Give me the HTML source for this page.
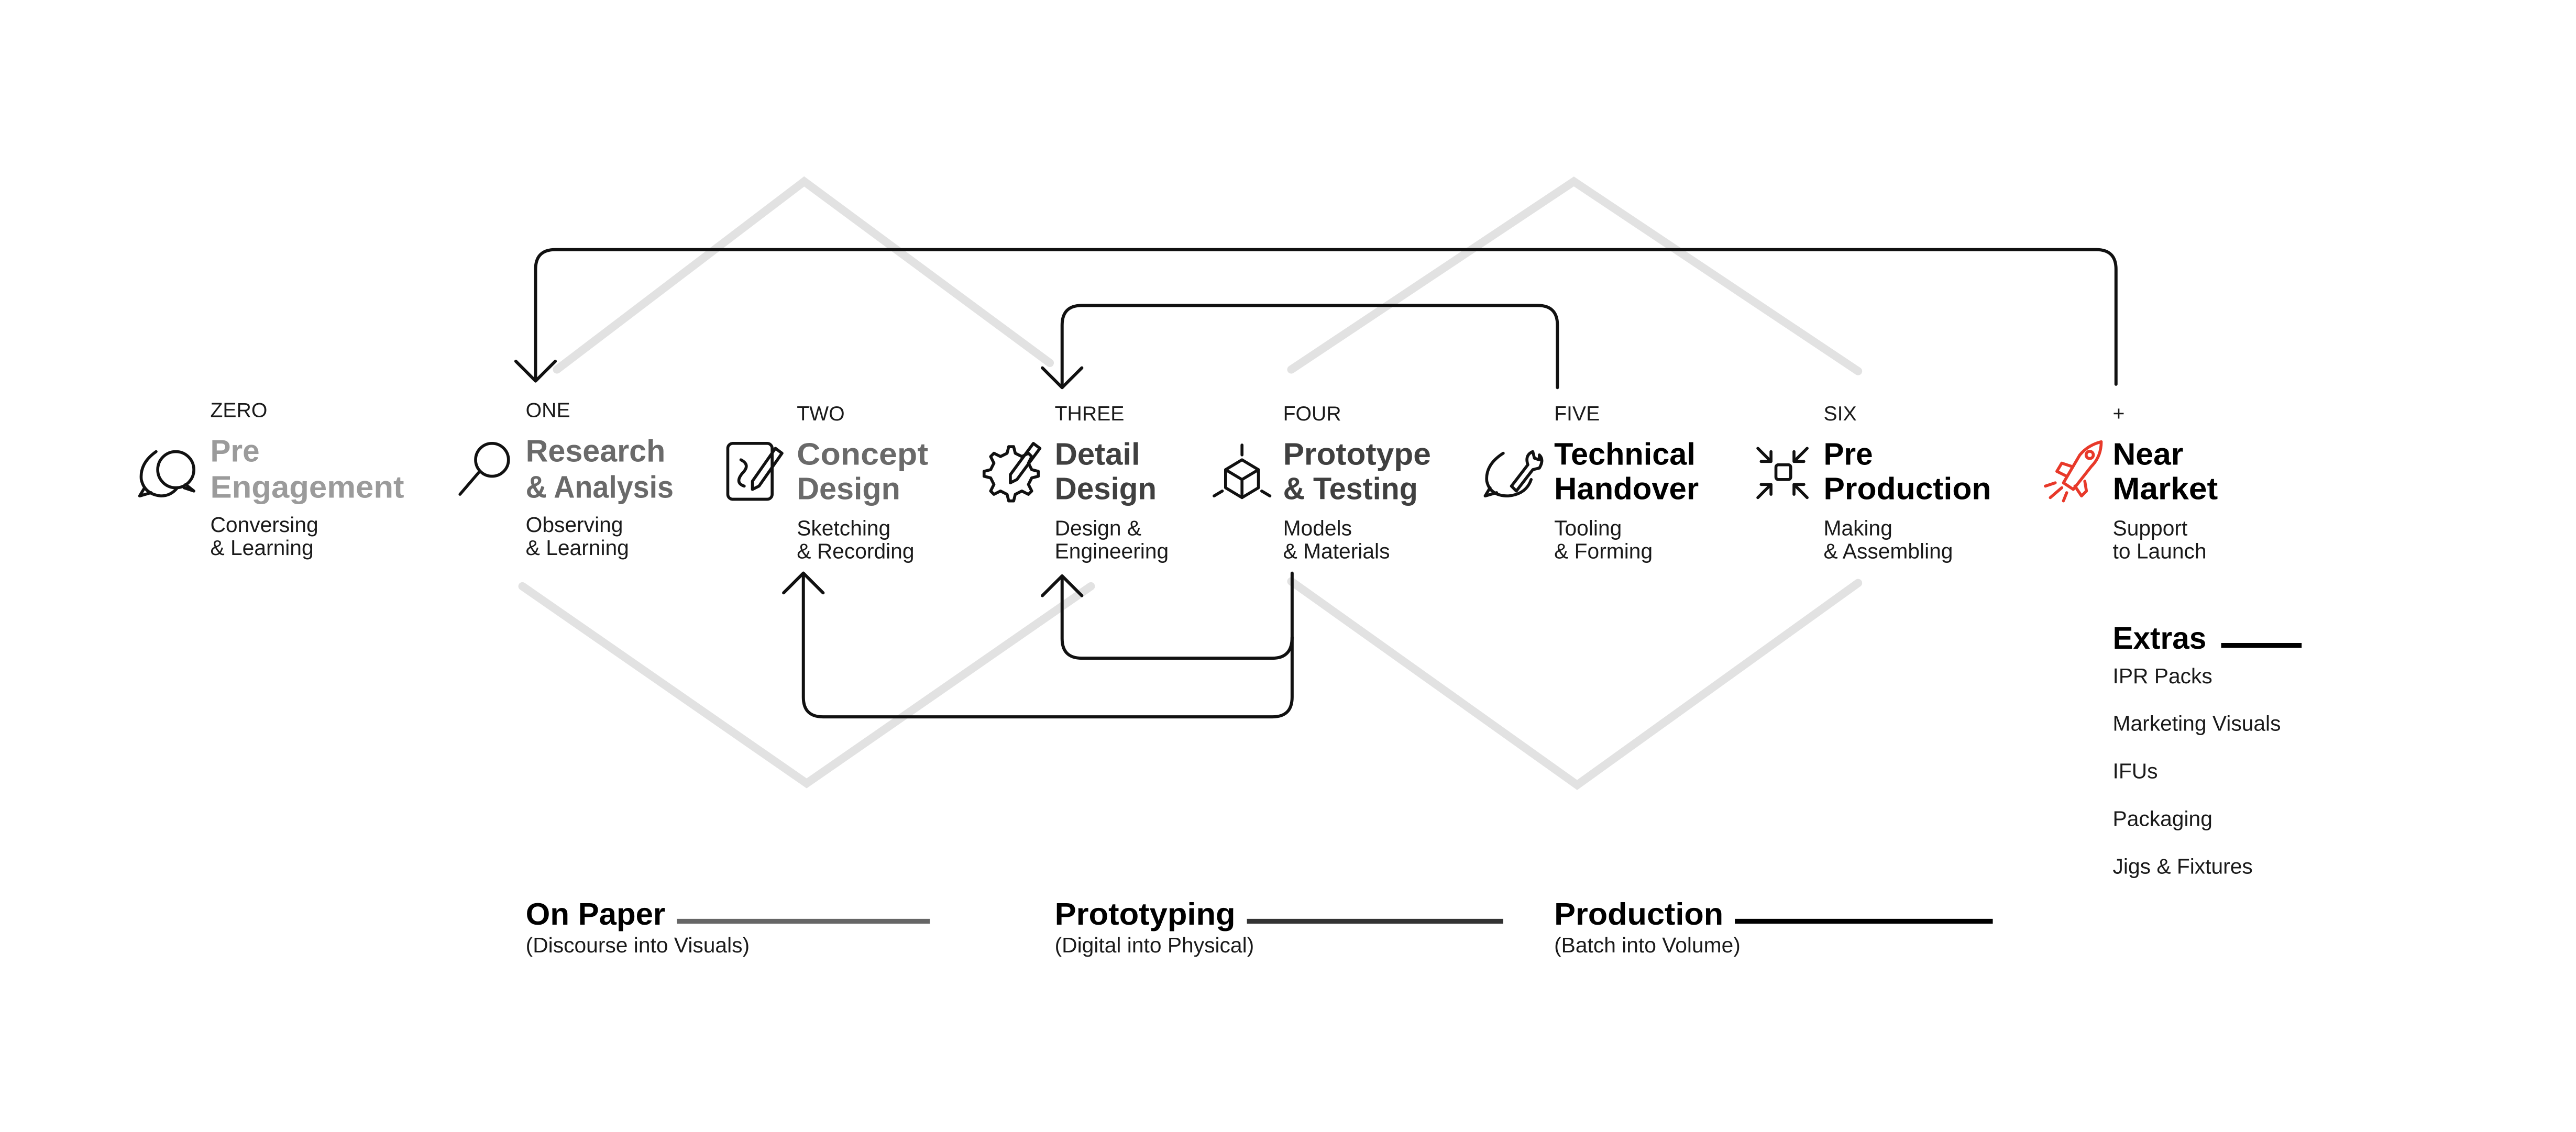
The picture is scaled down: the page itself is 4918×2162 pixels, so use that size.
<!DOCTYPE html>
<html><head><meta charset="utf-8"><style>
html,body{margin:0;padding:0;background:#fff;}
svg{display:block;}
text{font-family:"Liberation Sans",sans-serif;}
.lab{font-size:12.5px;fill:#1a1a1a;}
.sub{font-size:13px;fill:#1a1a1a;}
.t{font-size:19px;font-weight:bold;}
.ic{fill:none;stroke:#111;stroke-width:1.8;stroke-linecap:round;stroke-linejoin:round;}
</style></head><body>
<svg width="4918" height="2162" viewBox="0 0 1568 689.3" xmlns="http://www.w3.org/2000/svg">
<rect width="1568" height="689.3" fill="#fff"/>
<!-- grey diamonds -->
<g fill="none" stroke="#e2e2e2" stroke-width="5" stroke-linecap="round">
<polyline points="339,225 489.5,110.5 639,221"/>
<polyline points="318,357 491,477 664,357"/>
<polyline points="786,225 958,110.5 1131,226"/>
<polyline points="786,354 960,478 1131,355"/>
</g>
<!-- connectors -->
<g fill="none" stroke="#111" stroke-width="1.9" stroke-linecap="round" stroke-linejoin="round">
<path d="M326,232 V164 Q326,152 338,152 H1276 Q1288,152 1288,164 V234"/>
<polyline points="314,220 326,232 338,220"/>
<path d="M646.5,236 V198 Q646.5,186 658.5,186 H936 Q948,186 948,198 V236"/>
<polyline points="634.5,224 646.5,236 658.5,224"/>
<path d="M786.5,349 V424.5 Q786.5,436.5 774.5,436.5 H501 Q489,436.5 489,424.5 V349"/>
<polyline points="477,361 489,349 501,361"/>
<path d="M786.5,388 Q786.5,400.8 774.5,400.8 H658.5 Q646.5,400.8 646.5,388.8 V350.7"/>
<polyline points="634.5,362.7 646.5,350.7 658.5,362.7"/>
</g>
<!-- labels -->
<text class="lab" x="128" y="254">ZERO</text>
<text class="lab" x="320" y="254">ONE</text>
<text class="lab" x="485" y="256">TWO</text>
<text class="lab" x="642" y="256">THREE</text>
<text class="lab" x="781" y="256">FOUR</text>
<text class="lab" x="946" y="256">FIVE</text>
<text class="lab" x="1110" y="256">SIX</text>
<text class="lab" x="1286" y="256">+</text>
<!-- titles -->
<g class="t">
<text x="128" y="281" fill="#9b9b9b" textLength="30" lengthAdjust="spacingAndGlyphs">Pre</text>
<text x="128" y="303" fill="#9b9b9b" textLength="118" lengthAdjust="spacingAndGlyphs">Engagement</text>
<text x="320" y="281" fill="#6a6a6a" textLength="85" lengthAdjust="spacingAndGlyphs">Research</text>
<text x="320" y="303" fill="#6a6a6a" textLength="90" lengthAdjust="spacingAndGlyphs">&amp; Analysis</text>
<text x="485" y="283" fill="#6a6a6a" textLength="80" lengthAdjust="spacingAndGlyphs">Concept</text>
<text x="485" y="304" fill="#6a6a6a" textLength="63" lengthAdjust="spacingAndGlyphs">Design</text>
<text x="642" y="283" fill="#404040" textLength="52" lengthAdjust="spacingAndGlyphs">Detail</text>
<text x="642" y="304" fill="#404040" textLength="62" lengthAdjust="spacingAndGlyphs">Design</text>
<text x="781" y="283" fill="#404040" textLength="90" lengthAdjust="spacingAndGlyphs">Prototype</text>
<text x="781" y="304" fill="#404040" textLength="82" lengthAdjust="spacingAndGlyphs">&amp; Testing</text>
<text x="946" y="283" fill="#000" textLength="86" lengthAdjust="spacingAndGlyphs">Technical</text>
<text x="946" y="304" fill="#000" textLength="88" lengthAdjust="spacingAndGlyphs">Handover</text>
<text x="1110" y="283" fill="#000" textLength="30" lengthAdjust="spacingAndGlyphs">Pre</text>
<text x="1110" y="304" fill="#000" textLength="102" lengthAdjust="spacingAndGlyphs">Production</text>
<text x="1286" y="283" fill="#000" textLength="43" lengthAdjust="spacingAndGlyphs">Near</text>
<text x="1286" y="304" fill="#000" textLength="64" lengthAdjust="spacingAndGlyphs">Market</text>
</g>
<!-- subtitles -->
<text class="sub" x="128" y="324">Conversing</text><text class="sub" x="128" y="338">&amp; Learning</text>
<text class="sub" x="320" y="324">Observing</text><text class="sub" x="320" y="338">&amp; Learning</text>
<text class="sub" x="485" y="326">Sketching</text><text class="sub" x="485" y="340">&amp; Recording</text>
<text class="sub" x="642" y="326">Design &amp;</text><text class="sub" x="642" y="340">Engineering</text>
<text class="sub" x="781" y="326">Models</text><text class="sub" x="781" y="340">&amp; Materials</text>
<text class="sub" x="946" y="326">Tooling</text><text class="sub" x="946" y="340">&amp; Forming</text>
<text class="sub" x="1110" y="326">Making</text><text class="sub" x="1110" y="340">&amp; Assembling</text>
<text class="sub" x="1286" y="326">Support</text><text class="sub" x="1286" y="340">to Launch</text>
<!-- icons -->
<g class="ic">
<!-- zero chat -->
<path d="M95,275 Q85,282 86,292 Q88,301 98,302 Q104,302 108,297"/>
<path d="M88,297 L85,302 L92,300"/>
<circle cx="107" cy="286" r="11"/>
<path d="M113,295 L118,299 L112,297"/>
<!-- one magnifier -->
<circle cx="299.5" cy="280" r="10"/>
<line x1="292" y1="287" x2="280" y2="301"/>
<!-- two -->
<rect x="443" y="270" width="27" height="34" rx="3"/>
<path d="M451,280 Q457,283 452,288 Q447,294 453,296"/>
<path d="M472,273 L476,276 L462,296 L458,298 L458,293 Z"/>
<!-- three gear -->
<path d="M614,272 l3,0 1,4 4,2 4,-2 2,2 -2,4 2,4 4,1 0,3 -4,1 -2,4 2,4 -2,2 -4,-2 -4,2 -1,4 -3,0 -1,-4 -4,-2 -4,2 -2,-2 2,-4 -2,-4 -4,-1 0,-3 4,-1 2,-4 -2,-4 2,-2 4,2 4,-2 z"/>
<path d="M629,270 L633,273 L619,292 L615,294 L615,289 Z"/>
<!-- four cube -->
<line x1="756" y1="271" x2="756" y2="277"/>
<path d="M756,280 L766,286 L766,297 L756,303 L746,297 L746,286 Z"/>
<path d="M746,286 L756,292 L766,286 M756,292 V303"/>
<line x1="744" y1="299" x2="739" y2="302"/>
<line x1="768" y1="299" x2="773" y2="302"/>
<!-- five -->
<path d="M915,276 Q904,283 905,293 Q907,302 918,302 Q929,301 932,292"/>
<path d="M907,297 L904,302 L911,300"/>
<path d="M920,296 L930,283 Q928,277 933,275 L934,279 L937,280 L937,277 Q940,280 937,285 L933,286 L923,299 Z"/>
<!-- six arrows -->
<path d="M1070,273 L1078,281 M1078,275 V281 H1072"/>
<path d="M1100,273 L1092,281 M1092,275 V281 H1098"/>
<path d="M1070,303 L1078,295 M1072,295 H1078 V301"/>
<path d="M1100,303 L1092,295 M1098,295 H1092 V301"/>
<rect x="1081" y="283" width="9" height="9" rx="1.5"/>
</g>
<!-- rocket -->
<g fill="none" stroke="#e8392a" stroke-width="1.8" stroke-linecap="round" stroke-linejoin="round">
<path d="M1256,294 L1266,277 Q1271,271 1279,269 Q1279,278 1273,284 L1262,298 Z"/>
<circle cx="1272" cy="277" r="2.2"/>
<path d="M1258,290 L1252,287 L1255,282 L1261,284"/>
<path d="M1263,296 L1267,302 L1270,299 L1269,293"/>
<line x1="1245" y1="296" x2="1251" y2="294"/>
<line x1="1248" y1="303" x2="1255" y2="297"/>
<line x1="1256" y1="305" x2="1258" y2="300"/>
</g>
<!-- extras -->
<text x="1286" y="395" font-size="19" font-weight="bold" fill="#000" textLength="57" lengthAdjust="spacingAndGlyphs">Extras</text>
<line x1="1352" y1="393" x2="1401" y2="393" stroke="#000" stroke-width="3"/>
<text class="sub" x="1286" y="416">IPR Packs</text>
<text class="sub" x="1286" y="445">Marketing Visuals</text>
<text class="sub" x="1286" y="474">IFUs</text>
<text class="sub" x="1286" y="503">Packaging</text>
<text class="sub" x="1286" y="532">Jigs &amp; Fixtures</text>
<!-- bottom -->
<text x="320" y="563" font-size="19" font-weight="bold" fill="#000" textLength="85" lengthAdjust="spacingAndGlyphs">On Paper</text>
<line x1="412" y1="561" x2="566" y2="561" stroke="#666" stroke-width="3"/>
<text class="sub" x="320" y="580">(Discourse into Visuals)</text>
<text x="642" y="563" font-size="19" font-weight="bold" fill="#000" textLength="110" lengthAdjust="spacingAndGlyphs">Prototyping</text>
<line x1="759" y1="561" x2="915" y2="561" stroke="#333" stroke-width="3"/>
<text class="sub" x="642" y="580">(Digital into Physical)</text>
<text x="946" y="563" font-size="19" font-weight="bold" fill="#000" textLength="103" lengthAdjust="spacingAndGlyphs">Production</text>
<line x1="1056" y1="561" x2="1213" y2="561" stroke="#000" stroke-width="3"/>
<text class="sub" x="946" y="580">(Batch into Volume)</text>
</svg>
</body></html>
